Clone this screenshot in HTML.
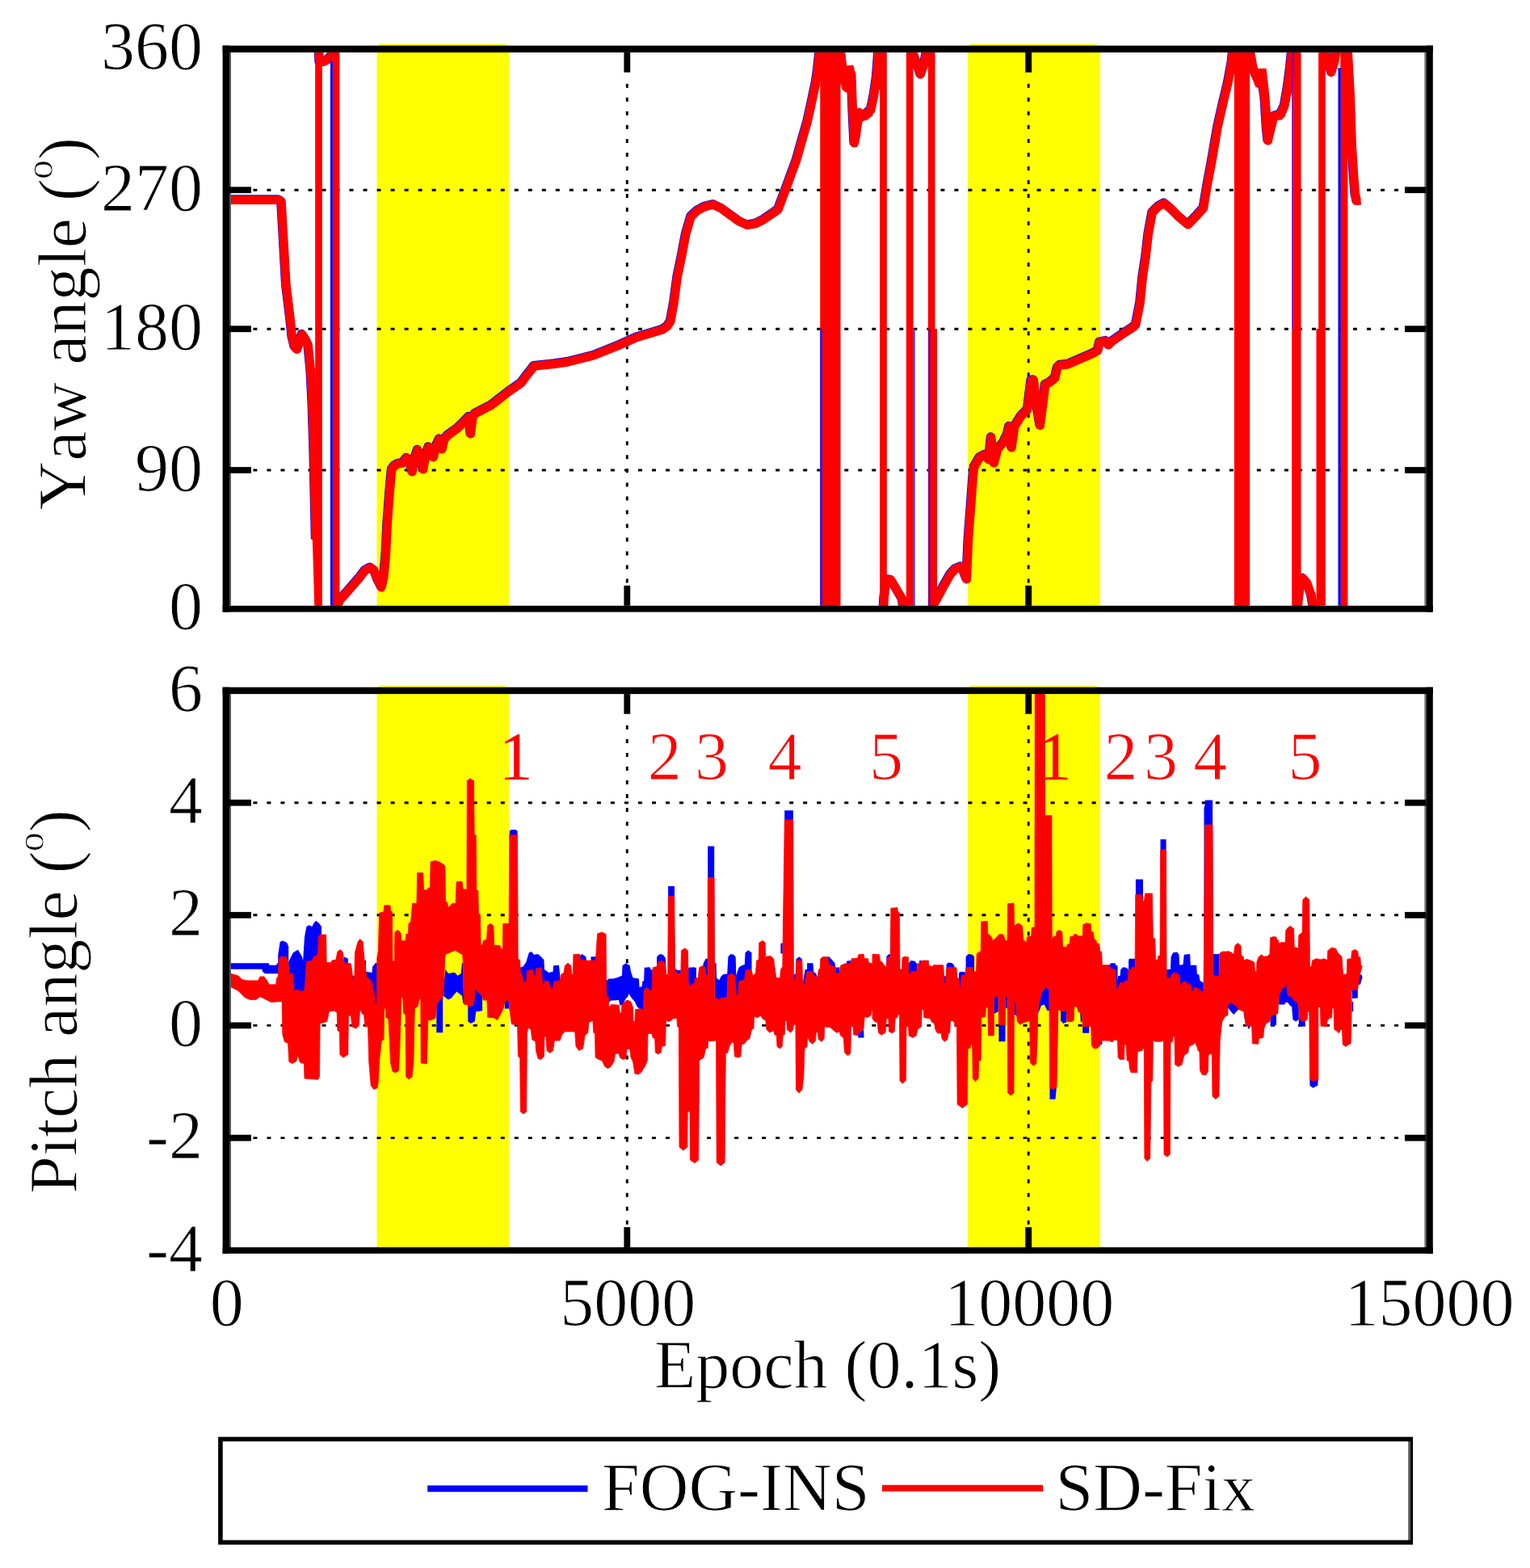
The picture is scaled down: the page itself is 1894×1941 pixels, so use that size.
<!DOCTYPE html>
<html lang="en"><head><meta charset="utf-8"><title>Yaw and pitch angle</title>
<style>html,body{margin:0;padding:0;background:#fff;}svg{display:block;}</style></head>
<body>
<svg width="1894" height="1941" viewBox="0 0 1894 1941" role="img" aria-label="Yaw and pitch angle of FOG-INS and SD-Fix versus epoch">
<defs><clipPath id="clipA"><rect x="286" y="64.9" width="1479.4" height="684.9"/></clipPath><clipPath id="clipB"><rect x="286" y="859.1" width="1479.4" height="684.9"/></clipPath></defs>
<rect x="0" y="0" width="1894" height="1941" fill="#fff"/>
<rect x="466.5" y="56.5" width="163.5" height="693.3" fill="#ffff00"/>
<rect x="469" y="54.4" width="156.5" height="3.1" fill="#ffff00"/>
<rect x="1198.2" y="56.5" width="163.7" height="693.3" fill="#ffff00"/>
<rect x="1200.7" y="54.4" width="156.7" height="3.1" fill="#ffff00"/>
<g stroke="#000" stroke-width="2.9" stroke-dasharray="5 12.02" fill="none"><line x1="313.4" y1="235.2" x2="1738" y2="235.2"/><line x1="313.4" y1="407.2" x2="1738" y2="407.2"/><line x1="313.4" y1="582" x2="1738" y2="582"/></g>
<g stroke="#000" stroke-width="2.9" stroke-dasharray="5 12.02" fill="none"><line x1="776.3" y1="103.8" x2="776.3" y2="723.8"/><line x1="1273.2" y1="103.8" x2="1273.2" y2="723.8"/></g>
<g clip-path="url(#clipA)" fill="none" stroke-linejoin="round" stroke-linecap="butt">
<g stroke="#0000ff" stroke-width="11.0" transform="translate(-0.7,-0.7)"><polyline points="283,247.4 345,247.4 348.3,249.5 350.6,290 354.2,353 359.3,395 361.6,417 364.5,429 367.7,432.5 370.5,424 374,414 377.5,419 381.4,427 384.6,459 386.7,501 388.6,560 390,625 391,668"/><polyline points="394.4,50 395.5,77 400,76.5 406,73.5 410,69.5 413,64 415.8,50"/><polyline points="416,765 418,749 421,742.5 433,729 445.8,714.3 452,706 458.5,702.7 463,706 467.5,718 472.2,727 475,715 477.5,689 479.6,646.7 482.8,604.5 485,581 488,577 493,574 498.6,573 503.5,567 507,570 510.3,584 513,569 517,557 520.5,564 523.8,581 527,564 530.6,553.5 534,556 536.6,566 540,552 544,543.5 547.2,556 550,544 554.2,539 566.2,530.3 574.5,522.3 580.5,516 582.6,537 585.2,516 588,512 608.3,501.5 629.6,485 645.3,474 653,463.4 657.5,458 661,453.2 686.5,450.5 703.4,448 735,440 766.7,427.3 787.8,417.8 819.5,408.3 826,404 830,398 834.3,374.5 838.5,342.8 843.8,317.5 849,290 855.4,268 863,261 872,256 882.9,253.3 893,258 904,266 915,274 925.1,278.6 935,277 945,272 956.8,264 963.5,259 966,252 972.5,234.8 979,217 985.9,198.4 992.5,175 999.4,150.9 1004.5,128 1009.7,103.4 1012,88 1013.8,71 1015.5,50 1019.4,50"/><polyline points="1019.4,765 1022.7,765"/><polyline points="1022.7,50 1026,50"/><polyline points="1026,765 1029.3,765"/><polyline points="1029.3,50 1032.6,50"/><polyline points="1032.6,765 1035.9,765"/><polyline points="1035.9,50 1037.5,50 1041,66 1044.5,100 1047.5,92 1050.5,88 1054,92 1055.5,135 1057.5,177 1059.5,168 1062,150 1065,143 1072,141 1078,136 1082,117 1085,96 1088.5,50 1093.2,50"/><polyline points="1093.2,765 1094.5,740 1097.3,717 1103,718 1110,730 1117,742 1120,765 1126,765"/><polyline points="1126,50 1129,62 1134,76 1139.4,92 1144.5,78 1149.5,50 1153,50"/><polyline points="1153,765 1156,748 1159.6,741.8 1168,726 1176.5,711 1183,704 1189.2,701.6 1193,708 1196.6,717 1198.7,667.8 1201.9,625.6 1204.5,590 1206,578 1213,566 1219,563 1224,569 1227,541.5 1230.5,573 1235,556 1242,548 1247,538 1249.3,528 1252.3,554 1256,528 1264,515 1272,507 1276.5,471 1279.5,470.5 1283,500 1287.5,526.5 1291,500 1294,476 1300,473 1306,468 1309,455 1312,452 1322,451 1338,444 1352,438 1359,434 1361.3,423.5 1369,422 1372,427 1376,423 1393.4,411 1402,405.5 1406,402 1411.4,374.5 1414.5,342.8 1418.4,317.5 1421.5,290 1426.5,263 1434,255.5 1441.2,251.5 1449,258 1460,269 1470.8,278 1480,268.5 1489.8,257.5 1494,232 1500,200 1507.4,157 1514,128 1520,103 1524.8,77 1527.5,50 1532,50"/><polyline points="1532,765 1535.5,765"/><polyline points="1535.5,50 1539,50"/><polyline points="1539,765 1542.5,765"/><polyline points="1542.5,50 1546.5,50 1548,66 1551.5,86 1556,96 1562,98 1565.5,120 1568,160 1569.6,174 1572.5,162 1577,144 1585,141.5 1590,131 1594,108 1597,85 1600.5,50 1605.9,50"/><polyline points="1605.9,765 1607,745 1610,720 1613,716 1618,722 1623,736 1628,765 1636.2,765"/><polyline points="1636.2,50 1640,62 1644,76 1648,89.5 1652,76 1656.5,50 1663.5,50"/><polyline points="1663.5,765 1663.7,765"/><polyline points="1663.7,50 1665.5,50 1668.5,64 1671.6,120 1673.5,180 1675.7,215 1677.6,240 1679.5,248.5 1684.5,248"/></g>
<polygon fill="#ff0000" stroke="none" points="1039.1,60.6 1040.1,64.8 1042.2,66.9 1043.8,74.3 1045.4,84.8 1047,84.8 1048,81.2 1056,80.6 1057.6,84.8 1058.6,96.5 1058.6,133.4 1060.7,133.9 1065.5,133.4 1067.6,136.6 1071.8,136.6 1075,133.4 1076.6,119.7 1078.7,104.9 1081.8,92.2 1084.5,80.6 1087.6,64.8 1089.8,64.8 1089.8,111.2 1087.6,111.2 1085.5,126 1083.4,127.1 1080.3,142.9 1073.9,148.2 1067.6,150.3 1064.4,154.5 1063.4,175.7 1061.2,181.5 1053.9,181.5 1051.2,159.8 1050.7,115.5 1045.4,113.4 1042.2,110.2 1040.1,100.7 1039.1,100.7"/><polygon fill="#ff0000" stroke="none" points="1546.5,60.6 1547.5,64.8 1550.7,71.1 1554.9,77.5 1557,84.8 1567.6,84.8 1569.7,102.8 1571.8,123.9 1572.9,139.8 1584.5,137.6 1588.7,115.5 1592.9,99.6 1596.1,79.6 1599.3,68 1601.4,64.8 1601.4,112.3 1599.8,112.3 1598.2,117.6 1595,132.4 1590.8,144 1586.6,148.2 1577.1,149.3 1574.4,176.7 1568.6,178.8 1564.4,176.7 1562.3,145 1561.2,111.2 1553.9,107 1550.7,98.6 1547.5,88 1546.5,88"/><g stroke="#ff0000" stroke-width="11.0"><polyline points="283,247.4 345,247.4 348.3,249.5 350.6,290 354.2,353 359.3,395 361.6,417 364.5,429 367.7,432.5 370.5,424 374,414 377.5,419 381.4,427 384.6,459 386.7,501 388.6,560 390,625 391,668"/><polyline points="394.4,50 395.5,77 400,76.5 406,73.5 410,69.5 413,64 415.8,50"/><polyline points="416,765 418,749 421,742.5 433,729 445.8,714.3 452,706 458.5,702.7 463,706 467.5,718 472.2,727 475,715 477.5,689 479.6,646.7 482.8,604.5 485,581 488,577 493,574 498.6,573 503.5,567 507,570 510.3,584 513,569 517,557 520.5,564 523.8,581 527,564 530.6,553.5 534,556 536.6,566 540,552 544,543.5 547.2,556 550,544 554.2,539 566.2,530.3 574.5,522.3 580.5,516 582.6,537 585.2,516 588,512 608.3,501.5 629.6,485 645.3,474 653,463.4 657.5,458 661,453.2 686.5,450.5 703.4,448 735,440 766.7,427.3 787.8,417.8 819.5,408.3 826,404 830,398 834.3,374.5 838.5,342.8 843.8,317.5 849,290 855.4,268 863,261 872,256 882.9,253.3 893,258 904,266 915,274 925.1,278.6 935,277 945,272 956.8,264 963.5,259 966,252 972.5,234.8 979,217 985.9,198.4 992.5,175 999.4,150.9 1004.5,128 1009.7,103.4 1012,88 1013.8,71 1015.5,50 1019.4,50"/><polyline points="1019.4,765 1022.7,765"/><polyline points="1022.7,50 1026,50"/><polyline points="1026,765 1029.3,765"/><polyline points="1029.3,50 1032.6,50"/><polyline points="1032.6,765 1035.9,765"/><polyline points="1035.9,50 1037.5,50 1041,66 1044.5,100 1047.5,92 1050.5,88 1054,92 1055.5,135 1057.5,177 1059.5,168 1062,150 1065,143 1072,141 1078,136 1082,117 1085,96 1088.5,50 1093.2,50"/><polyline points="1093.2,765 1094.5,740 1097.3,717 1103,718 1110,730 1117,742 1120,765 1126,765"/><polyline points="1126,50 1129,62 1134,76 1139.4,92 1144.5,78 1149.5,50 1153,50"/><polyline points="1153,765 1156,748 1159.6,741.8 1168,726 1176.5,711 1183,704 1189.2,701.6 1193,708 1196.6,717 1198.7,667.8 1201.9,625.6 1204.5,590 1206,578 1213,566 1219,563 1224,569 1227,541.5 1230.5,573 1235,556 1242,548 1247,538 1249.3,528 1252.3,554 1256,528 1264,515 1272,507 1276.5,471 1279.5,470.5 1283,500 1287.5,526.5 1291,500 1294,476 1300,473 1306,468 1309,455 1312,452 1322,451 1338,444 1352,438 1359,434 1361.3,423.5 1369,422 1372,427 1376,423 1393.4,411 1402,405.5 1406,402 1411.4,374.5 1414.5,342.8 1418.4,317.5 1421.5,290 1426.5,263 1434,255.5 1441.2,251.5 1449,258 1460,269 1470.8,278 1480,268.5 1489.8,257.5 1494,232 1500,200 1507.4,157 1514,128 1520,103 1524.8,77 1527.5,50 1532,50"/><polyline points="1532,765 1535.5,765"/><polyline points="1535.5,50 1539,50"/><polyline points="1539,765 1542.5,765"/><polyline points="1542.5,50 1546.5,50 1548,66 1551.5,86 1556,96 1562,98 1565.5,120 1568,160 1569.6,174 1572.5,162 1577,144 1585,141.5 1590,131 1594,108 1597,85 1600.5,50 1605.9,50"/><polyline points="1605.9,765 1607,745 1610,720 1613,716 1618,722 1623,736 1628,765 1636.2,765"/><polyline points="1636.2,50 1640,62 1644,76 1648,89.5 1652,76 1656.5,50 1663.5,50"/><polyline points="1663.5,765 1663.7,765"/><polyline points="1663.7,50 1665.5,50 1668.5,64 1671.6,120 1673.5,180 1675.7,215 1677.6,240 1679.5,248.5 1684.5,248"/></g><g stroke="#ff0000" stroke-width="8.7"><line x1="394.5" y1="765" x2="394.5" y2="50"/><line x1="416.1" y1="50" x2="416.1" y2="765"/><line x1="1019.6" y1="50" x2="1019.6" y2="765"/><line x1="1023.0" y1="765" x2="1023.0" y2="50"/><line x1="1026.2" y1="50" x2="1026.2" y2="765"/><line x1="1029.5" y1="765" x2="1029.5" y2="50"/><line x1="1032.8" y1="50" x2="1032.8" y2="765"/><line x1="1036.2" y1="765" x2="1036.2" y2="50"/><line x1="1093.5" y1="50" x2="1093.5" y2="765"/><line x1="1126.2" y1="765" x2="1126.2" y2="50"/><line x1="1153.2" y1="50" x2="1153.2" y2="765"/><line x1="1532.2" y1="50" x2="1532.2" y2="765"/><line x1="1535.8" y1="765" x2="1535.8" y2="50"/><line x1="1539.2" y1="50" x2="1539.2" y2="765"/><line x1="1542.8" y1="765" x2="1542.8" y2="50"/><line x1="1606.2" y1="50" x2="1606.2" y2="765"/><line x1="1636.5" y1="765" x2="1636.5" y2="50"/><line x1="1663.8" y1="50" x2="1663.8" y2="765"/><line x1="1664.0" y1="765" x2="1664.0" y2="50"/></g><polyline stroke="#ff0000" stroke-width="8.7" points="391,664 392.3,705 394,765"/><rect x="408.9" y="76.0" width="3.0" height="689.0" fill="#0000ff" stroke="none"/><rect x="1015.2" y="407.0" width="2.8" height="358.0" fill="#2020ff" stroke="none"/><rect x="1130.1" y="407.0" width="2.6" height="358.0" fill="#4040ff" stroke="none"/><rect x="1149.2" y="407.0" width="2.4" height="358.0" fill="#7000a0" stroke="none"/><rect x="1156.0" y="407.0" width="4.0" height="358.0" fill="#ff0000" stroke="none"/><rect x="1599.2" y="60.0" width="2.6" height="347.0" fill="#9000a0" stroke="none"/><rect x="1599.2" y="407.0" width="3.8" height="358.0" fill="#ff0000" stroke="none"/><rect x="1629.5" y="407.0" width="4.0" height="358.0" fill="#ff0000" stroke="none"/><rect x="1656.5" y="84.0" width="3.2" height="681.0" fill="#0000ff" stroke="none"/>
</g>
<g fill="#000"><rect x="1763.3" y="64.9" width="2.1" height="684.9" fill="#6f7777"/><rect x="275.6" y="56.5" width="1498.2" height="8.4"/><rect x="275.6" y="749.8" width="1498.2" height="7.8"/><rect x="284" y="64.9" width="2" height="684.9" fill="#555a60"/><rect x="275.6" y="56.5" width="8.4" height="701.1"/><rect x="1765.4" y="56.5" width="8.4" height="701.1"/><rect x="284" y="231.3" width="27" height="7.8"/><rect x="1739" y="231.3" width="26.4" height="7.8"/><rect x="284" y="403.3" width="27" height="7.8"/><rect x="1739" y="403.3" width="26.4" height="7.8"/><rect x="284" y="578.1" width="27" height="7.8"/><rect x="1739" y="578.1" width="26.4" height="7.8"/><rect x="772.4" y="64.9" width="7.8" height="24.7"/><rect x="772.4" y="724.9" width="7.8" height="24.9"/><rect x="1269.3" y="64.9" width="7.8" height="24.7"/><rect x="1269.3" y="724.9" width="7.8" height="24.9"/></g>
<rect x="466.5" y="850.7" width="163.5" height="693.3" fill="#ffff00"/>
<rect x="469" y="848.6" width="156.5" height="3.1" fill="#ffff00"/>
<rect x="1198.2" y="850.7" width="163.7" height="693.3" fill="#ffff00"/>
<rect x="1200.7" y="848.6" width="156.7" height="3.1" fill="#ffff00"/>
<g stroke="#000" stroke-width="2.9" stroke-dasharray="5 12.02" fill="none"><line x1="313.4" y1="993.7" x2="1738" y2="993.7"/><line x1="313.4" y1="1132.8" x2="1738" y2="1132.8"/><line x1="313.4" y1="1269.4" x2="1738" y2="1269.4"/><line x1="313.4" y1="1408.6" x2="1738" y2="1408.6"/></g>
<g stroke="#000" stroke-width="2.9" stroke-dasharray="5 12.02" fill="none"><line x1="776.3" y1="898" x2="776.3" y2="1518"/><line x1="1273.2" y1="898" x2="1273.2" y2="1518"/></g>
<g clip-path="url(#clipB)">
<g fill="#0000ff"><polygon points="344.2,1181.7 346.7,1165.7 350.4,1164.4 355.3,1166.9 357.2,1171.8 357.2,1190.4 357.2,1203.2 356.2,1195.4 355.2,1192.9 354.2,1190.4 353.2,1190.2 352.2,1190.2 351.2,1190.2 350.2,1190.2 349.2,1190.2 348.2,1190.2 347.2,1190.3 346.2,1191.7 345.2,1197 344.2,1214.9"/><polygon points="357.2,1190.4 362.8,1179.3 368.9,1175.5 373.9,1184.2 375.1,1189.1 377,1159.5 379.4,1147.1 382.5,1145.2 386.3,1147.1 388.7,1142.2 391.2,1139.7 394.9,1142.8 398,1147.1 398,1157 398,1163 397,1163 396,1163.2 395,1164.5 394,1175.2 393,1188.1 392,1188.6 391,1189 390,1189.5 389,1190 388,1191.6 387,1193.6 386.1,1195.2 385.1,1195.4 384.1,1195.5 383.1,1195.7 382.1,1195.9 381.1,1196.1 380.1,1196.3 379.1,1201.9 378.1,1217.2 377.1,1228.1 376.1,1232.9 375.1,1232.9 374.1,1232.9 373.1,1232.9 372.1,1232.9 371.1,1232.7 370.1,1231.9 369.1,1231.2 368.1,1231.2 367.1,1231.5 366.1,1231.7 365.2,1232 364.2,1232.2 363.2,1219 362.2,1212.2 361.2,1211.7 360.2,1211.2 359.2,1210.7 358.2,1210.2 357.2,1203.2"/><polygon points="425.8,1184.2 430.8,1186.7 430.8,1191.6 430.8,1198.3 429.8,1198.2 428.8,1198 427.8,1197.9 426.8,1197.8 425.8,1197.6"/><polygon points="435.7,1207.7 438.8,1207.7 438.8,1219.9 438,1219.4 437.3,1218.9 436.5,1214.9 435.7,1208.8"/><polygon points="449.9,1189.1 453,1189.1 453,1196.6 453,1208.8 452.3,1201.5 451.5,1196.4 450.7,1191.2 449.9,1180.9"/><polygon points="453,1202.8 460.5,1204 461.1,1196.6 464.2,1192.9 466.4,1192.2 466.4,1249.6 465.4,1249.6 464.5,1242.2 463.5,1237.1 462.6,1233.3 461.6,1229.3 460.7,1222.6 459.7,1220.4 458.8,1219.4 457.8,1218.5 456.8,1217.5 455.9,1216.7 454.9,1216 454,1215.2 453,1208.8"/><polygon points="630.7,1028.4 633.4,1027.1 638,1027.1 640.6,1028.4 640.6,1039.7 639.6,1039.7 638.7,1039.7 637.7,1039.7 636.7,1039.7 635.7,1039.7 634.7,1039.7 633.7,1039.7 632.7,1039.7 631.7,1039.7 630.7,1039.7"/><polygon points="643.7,1197.8 647.4,1196.6 651.1,1191.6 654.8,1179.3 657.9,1178 661,1181.7 666,1181.1 669.7,1184.2 673.4,1187.9 674,1200.3 679.6,1204 684.5,1202.8 685.1,1195.3 691.9,1194.7 693.2,1206.5 693.2,1219.9 692.2,1220 691.2,1220.2 690.2,1220.4 689.2,1220.5 688.2,1220.7 687.2,1220.9 686.3,1221 685.3,1224.6 684.3,1229.8 683.3,1229.8 682.3,1229.8 681.3,1227.2 680.3,1223.7 679.3,1221.1 678.3,1220.8 677.3,1220.6 676.4,1220.3 675.4,1220.1 674.4,1220.9 673.4,1224.8 672.4,1224.2 671.4,1221.6 670.4,1205.8 669.4,1204 668.4,1204.1 667.5,1204.3 666.5,1204.5 665.5,1204.7 664.5,1204.9 663.5,1205 662.5,1213.7 661.5,1213.7 660.5,1210.7 659.5,1206.3 658.6,1206.5 657.6,1206.7 656.6,1206.8 655.6,1207 654.6,1207.1 653.6,1207.3 652.6,1207.5 651.6,1221.1 650.6,1221.1 649.6,1221.1 648.7,1221.1 647.7,1221.1 646.7,1212.4 645.7,1211.9 644.7,1211.4 643.7,1195.1"/><polygon points="717.9,1183 720.4,1181.1 725.3,1184.2 726,1189.1 726,1195.1 725.1,1194.9 724.2,1194.8 723.3,1194.6 722.4,1194.5 721.5,1194.4 720.6,1194.2 719.7,1194.1 718.8,1194 717.9,1190.5"/><polygon points="731.5,1184.2 738.9,1184.2 738.9,1189.1 738.9,1171.2 738,1185.5 737.1,1192.7 736.2,1195.1 735.2,1195.1 734.3,1195.1 733.4,1195.1 732.4,1195.1 731.5,1195.1"/><polygon points="813.1,1184.2 816.8,1181.1 820.6,1181.7 823.7,1185.4 824.3,1191.6 824.3,1207.5 823.3,1200.1 822.4,1197.3 821.5,1196.8 820.6,1196.4 819.6,1195.9 818.7,1195.5 817.8,1195.4 816.8,1196 815.9,1196.6 815,1197.2 814.1,1198.9 813.1,1202.6"/><polygon points="827.1,1096.9 835,1096.9 835,1151.9 834,1115.6 833,1115.6 832.1,1115.6 831.1,1115.6 830.1,1115.6 829.1,1115.6 828.1,1115.6 827.1,1154.3"/><polygon points="834.8,1196.6 837.9,1200.9 842.8,1200.9 842.8,1205.2 842.8,1211.2 841.9,1211.2 841,1211.2 840.1,1211.2 839.2,1211.2 838.4,1211.2 837.5,1210.4 836.6,1208.6 835.7,1206.8 834.8,1115.6"/><polygon points="852.1,1197.8 860,1197.2 860,1222.4 859,1222.9 858,1223.4 857,1224.5 856.1,1226 855.1,1227.1 854.1,1225.5 853.1,1223.9 852.1,1222.4"/><polygon points="860,1197.8 861.9,1197.8 861.9,1212.6 861.9,1216.9 860.9,1217.1 860,1222.4"/><polygon points="870.5,1192.9 873.6,1186.7 876.1,1186.7 876.1,1207.7 876.1,1213.7 875.1,1213.2 874.2,1212.8 873.3,1208.1 872.4,1203.3 871.4,1202.6 870.5,1201.8"/><polygon points="876.2,1047.5 884.2,1047.5 884.2,1122 883.3,1092.3 882.5,1092.3 881.6,1092.3 880.7,1092.3 879.8,1092.3 878.9,1092.3 878,1092.3 877.1,1092.3 876.2,1153"/><polygon points="884.1,1192.2 886.6,1192.2 887.2,1210.8 890.3,1213.3 892.8,1208.3 895.9,1205.8 900.2,1205.8 901.4,1184.2 904.5,1181.1 908.2,1181.7 910.7,1184.8 911.3,1207.7 914.4,1197.8 918.1,1195.3 921.8,1194.1 922.5,1179.3 926.2,1176.2 930.5,1179.3 930.5,1201.5 930.5,1207.5 929.5,1207.1 928.5,1206.7 927.5,1206.3 926.5,1206.5 925.6,1206.8 924.6,1207.1 923.6,1207.4 922.6,1211.8 921.6,1218.7 920.6,1219.1 919.6,1219.4 918.7,1219.7 917.7,1220 916.7,1220.4 915.7,1220.7 914.7,1221 913.7,1238.4 912.7,1237.9 911.7,1237.4 910.8,1230 909.8,1217.5 908.8,1213.2 907.8,1212.6 906.8,1211.9 905.8,1211.3 904.8,1211.7 903.9,1212.2 902.9,1212.7 901.9,1213.2 900.9,1213.7 899.9,1240.9 898.9,1240.9 897.9,1240.9 896.9,1240.9 896,1240.9 895,1240.9 894,1240.9 893,1241.3 892,1242.3 891,1243.3 890,1243 889,1242.6 888.1,1242.2 887.1,1241.8 886.1,1241.4 885.1,1241.1 884.1,1092.3"/><polygon points="971.2,1003.2 981.9,1003.2 981.9,1059.1 981,1020.8 980,1020.8 979,1020.8 978,1020.8 977,1020.8 976.1,1020.8 975.1,1020.8 974.1,1020.8 973.1,1020.8 972.2,1020.8 971.2,1029.6"/><polygon points="982.4,1206.5 984.9,1205.2 984.9,1213.9 984.9,1219.9 984.1,1219.9 983.3,1217.4 982.4,1212.5"/><polygon points="985.5,1187.3 989.2,1184.2 992.9,1187.3 992.9,1195.1 992,1195.1 991.1,1195.1 990.2,1195.1 989.2,1195.1 988.3,1195.1 987.4,1195.1 986.5,1195.1 985.5,1195.1"/><polygon points="994.2,1213.9 996.7,1200.3 999.1,1199.7 999.1,1192.2 1006.5,1192.2 1007.2,1202.8 1010.3,1205.2 1012.1,1210.2 1012.1,1216.2 1011.1,1215.4 1010.1,1214.7 1009.1,1213.9 1008.1,1213.2 1007.1,1212.3 1006.1,1208.8 1005.1,1208.8 1004.1,1208.8 1003.1,1208.8 1002.2,1208.8 1001.2,1208.8 1000.2,1208.8 999.2,1208.8 998.2,1213.2 997.2,1218 996.2,1224 995.2,1224 994.2,1223"/><polygon points="1024.5,1184.2 1026.3,1184.2 1033.1,1191.6 1034.4,1196.6 1034.4,1211.2 1033.4,1204.3 1032.4,1202.3 1031.4,1201.9 1030.4,1201.6 1029.4,1201.2 1028.4,1200.9 1027.4,1200.5 1026.5,1200.1 1025.5,1195.8 1024.5,1190.8"/><polygon points="1034.4,1197.8 1039.3,1197.2 1039.3,1204 1039.3,1210 1038.3,1210.2 1037.3,1210.5 1036.4,1210.7 1035.4,1211 1034.4,1211.2"/><polygon points="1048,1189.8 1052.9,1189.1 1052.9,1192.9 1052.9,1198.9 1051.9,1198.9 1050.9,1198.9 1050,1198.9 1049,1198.9 1048,1198.9"/><polygon points="1097.3,1184.2 1100.4,1181.1 1102.9,1181.1 1102.9,1130.2 1102,1190.3 1101,1190.6 1100.1,1190.9 1099.2,1191.2 1098.2,1194.2 1097.3,1202.6"/><polygon points="1124.5,1192.9 1127.6,1189.1 1132.6,1189.8 1135,1192.9 1135,1208.1 1134.1,1208.2 1133.1,1208.3 1132.2,1208.4 1131.2,1208.5 1130.3,1208.5 1129.3,1208.6 1128.3,1208.7 1127.4,1210.1 1126.4,1212.1 1125.5,1211.5 1124.5,1190.8"/><polygon points="1138.1,1189.1 1140.6,1189.1 1140.6,1197.6 1139.8,1197.8 1138.9,1198 1138.1,1198.2"/><polygon points="1168.4,1208.9 1170.9,1207.7 1170.9,1217.6 1170.9,1223.6 1170.1,1223.6 1169.2,1223.6 1168.4,1212.2"/><polygon points="1171.5,1194.1 1174,1191.6 1178.9,1192.2 1181.4,1195.3 1181.4,1197.8 1181.4,1203.7 1180.4,1203.6 1179.4,1203.5 1178.4,1203.5 1177.5,1203.4 1176.5,1203.3 1175.5,1203.3 1174.5,1203.2 1173.5,1203.6 1172.5,1204.3 1171.5,1205"/><polygon points="1187,1204 1190.1,1202.8 1195,1203.4 1195,1212.5 1194.1,1212.7 1193.2,1212.9 1192.3,1213.1 1191.4,1213.4 1190.5,1213.6 1189.7,1222.8 1188.8,1227.3 1187.9,1227.3 1187,1217.4"/><polygon points="1195.6,1184.2 1198.7,1181.1 1203.7,1181.7 1206.1,1184.2 1206.1,1202.8 1206.1,1208.8 1205.2,1208.8 1204.2,1208.2 1203.3,1203.2 1202.3,1203.3 1201.4,1203.4 1200.4,1203.4 1199.5,1203.5 1198.5,1203.6 1197.5,1203.7 1196.6,1203.7 1195.6,1203.8"/><polygon points="1373,1194.7 1375.4,1192.2 1380.4,1192.2 1381.6,1195.3 1383.5,1195.3 1383.5,1201.5 1383.5,1230.4 1382.5,1230.1 1381.6,1227.6 1380.6,1206.2 1379.7,1206 1378.7,1205.8 1377.7,1205.6 1376.8,1205.3 1375.8,1205.1 1374.9,1204.1 1373.9,1202.4 1373,1200.7"/><polygon points="1381.6,1223.8 1384.1,1208.3 1386.6,1207.7 1387.2,1200.3 1390.3,1197.2 1394,1197.8 1397.1,1200.3 1397.1,1206.3 1396.1,1220.4 1395.1,1220.3 1394.2,1220.1 1393.2,1220 1392.3,1221.9 1391.3,1222.4 1390.3,1222.4 1389.4,1222.4 1388.4,1222.4 1387.4,1222.4 1386.5,1222.9 1385.5,1225.9 1384.5,1226.9 1383.6,1230 1382.6,1230.1 1381.6,1229.8"/><polygon points="1397.1,1189.1 1397.7,1186.7 1405.1,1186.7 1405.1,1197.8 1405.1,1203.8 1404.2,1203.7 1403.3,1203.5 1402.4,1203.4 1401.5,1203.2 1400.7,1205.7 1399.8,1205.8 1398.9,1206 1398,1206.1 1397.1,1206.3"/><polygon points="1405.9,1088.4 1415,1088.4 1415,1122 1414.1,1116.3 1413.2,1113.5 1412.3,1113.5 1411.4,1113.5 1410.4,1113.5 1409.5,1113.5 1408.6,1113.5 1407.7,1113.5 1406.8,1113.5 1405.9,1113.5"/><polygon points="1436.5,1039 1443.6,1039 1443.6,1089.5 1442.7,1057.8 1441.8,1057.8 1440.9,1057.8 1440.1,1057.8 1439.2,1057.8 1438.3,1057.8 1437.4,1057.8 1436.5,1084"/><polygon points="1444.1,1200.3 1449,1199.7 1449.6,1184.2 1452.1,1179.3 1457.1,1178.6 1459.5,1181.7 1460.2,1194.7 1464.5,1194.1 1465.7,1181.7 1473.1,1181.1 1473.8,1194.7 1481.2,1194.7 1481.8,1205.8 1484.3,1206.5 1485.5,1213.9 1489.8,1216.4 1489.8,1229.3 1489.8,1235.3 1488.8,1235.3 1487.8,1232.8 1486.9,1232.6 1485.9,1232.3 1484.9,1231.4 1483.9,1230.2 1482.9,1229.1 1481.9,1229 1480.9,1228.9 1479.9,1228.8 1478.9,1228.6 1477.9,1229.2 1476.9,1232.7 1475.9,1232.9 1474.9,1231.8 1473.9,1224.8 1472.9,1224.8 1471.9,1224.8 1470.9,1224.8 1469.9,1223.7 1468.9,1222.2 1467.9,1221.1 1467,1221.1 1466,1221.1 1465,1221.1 1464,1222.7 1463,1224.8 1462,1224.8 1461,1224.8 1460,1213.5 1459,1212.5 1458,1211.5 1457,1210.6 1456,1210.5 1455,1210.3 1454,1210.2 1453,1210 1452,1210.8 1451,1212 1450,1213.2 1449,1216.7 1448.1,1216.7 1447.1,1216.5 1446.1,1216.4 1445.1,1216.3 1444.1,1216.2"/><polygon points="1491.6,990.5 1501.1,990.5 1501.1,1064.3 1500.1,1027 1499.2,1027 1498.2,1027 1497.3,1027 1496.3,1027 1495.4,1027 1494.4,1027 1493.5,1027 1492.5,1027 1491.6,1042.7"/><polygon points="1501,1181.1 1509,1181.1 1509,1208.3 1509,1214.3 1508.1,1214.2 1507.2,1214.2 1506.3,1214.1 1505.4,1214 1504.5,1213.9 1503.6,1213.9 1502.8,1213.8 1501.9,1213.7 1501,1027"/><polygon points="282.4,1192.2 332.5,1192.2 333.7,1194.7 341.7,1194.7 344.2,1191.6 345.4,1196.6 344.2,1205.2 328.1,1205.2 325,1202.8 324.4,1199.7 282.4,1199.7"/><polygon points="464.2,1192.2 466.6,1192.2 466.6,1243.6 464.2,1233.7"/><polygon points="477.8,1254.7 480.2,1254.7 480.2,1259.6 477.8,1259.6"/><polygon points="748.8,1191.6 750.7,1213.9 753.8,1211.4 758.7,1211.4 763.7,1210.2 769.9,1207.7 770.5,1195.3 774.8,1192.2 779.7,1195.3 781,1202.8 783.5,1210.2 790.9,1211.4 791.5,1221.9 794.6,1221.3 795.2,1215.1 797.1,1213.9 797.7,1197.8 804.5,1197.2 805.7,1200.3 807.6,1200.3 808.8,1228.7 805.1,1228.7 800.8,1225 797.7,1227.5 797.1,1251 792.1,1249.1 788.4,1246 785.9,1239.9 782.2,1236.1 778.5,1230 777.3,1233.7 774.8,1236.1 771.1,1243.6 767.4,1244.8 766.1,1238 756.3,1238.6 753.8,1241.1 750.1,1233.7 748.2,1196.6"/><polygon points="966.4,1168.1 968.8,1166.9 968.8,1180.5 966.4,1180.5"/><polygon points="969.4,1137.2 971.3,1137.2 971.3,1147.1 969.4,1147.1"/><polygon points="1062.2,1279.4 1069,1273.9 1069.6,1284.4 1062.2,1284.4"/><polygon points="1490.5,1000 1492.3,995 1492.3,1178 1490.5,1178"/><polygon points="1681.4,1204 1686.3,1207.7 1686.3,1210.8 1683.9,1218.8 1680.8,1218.8"/><polygon points="477.6,1246 479.6,1246 479.6,1259.9 477.6,1259.9"/><polygon points="494.1,1246 496.1,1246 496.1,1269.8 494.1,1269.8"/><polygon points="540.3,1232.8 548.2,1232.8 548.2,1278.3 540.3,1278.3"/><polygon points="551.5,1199.8 554.8,1205.1 562.8,1203.8 566.7,1207.7 570.7,1205.1 572,1191.9 573.1,1191.9 573.3,1222.2 577.3,1224.9 577.3,1242 573.3,1242 572,1232.8 565.4,1227.5 558.8,1235.4 554.8,1237.4 548.9,1232.8 549.2,1219.6"/><polygon points="587.2,1222.2 591.8,1227.5 597.1,1232.8 597.1,1251.3 589.2,1252.6 587.8,1264.5 582.6,1267.1 579.3,1264.5 579.3,1246 585.2,1244.7 587.2,1238.1"/><polygon points="624.8,1232.8 630.1,1232.8 630.1,1248.6 624.8,1248.6"/><polygon points="1230.9,1228.7 1235.8,1228.1 1235.8,1252.2 1230.9,1254.7"/><polygon points="1236.4,1263.4 1244.5,1263.4 1244.5,1289.3 1236.4,1289.3"/><polygon points="1244.5,1228.7 1247,1228.7 1247,1247.3 1245.1,1248.5"/><polygon points="1255.6,1236.1 1258.1,1236.1 1258.7,1257.2 1255.6,1255.9"/><polygon points="1285.3,1246 1289,1230 1292.7,1223.8 1295.2,1221.9 1298.9,1225 1298.9,1251 1296.4,1251 1292.7,1243.6 1289,1244.8 1285.3,1254.7"/><polygon points="1313,1247.3 1318.6,1246 1320.4,1246 1320.4,1265.2 1316.1,1267.1 1313,1263.4"/><polygon points="1337.1,1249.7 1339.6,1249.7 1339.6,1265.8 1337.7,1264.6"/><polygon points="1340.2,1265.8 1348.2,1265.8 1348.2,1278.8 1340.2,1278.8"/><polygon points="1361.8,1285.6 1364.3,1285.6 1364.3,1293 1361.8,1293"/><polygon points="1299.5,1330 1308,1320 1308,1345 1306.5,1360.7 1299.5,1360.7"/><polygon points="1520,1238.6 1523.7,1236.1 1529.9,1239.9 1533.6,1249.7 1531.1,1251.6 1527.4,1255.9 1523.7,1252.2 1520,1247.3"/><polygon points="1539.8,1248.5 1542.3,1248.5 1542.3,1269.5 1539.8,1255.9"/><polygon points="1544.7,1268.3 1547.2,1268.3 1547.2,1273.2 1544.7,1273.2"/><polygon points="1572.6,1253.5 1574.4,1252.2 1580,1252.2 1580,1268.3 1576.9,1270.8 1572.6,1269.5"/><polygon points="1583.1,1227.5 1586.8,1218.8 1591.1,1216.4 1592.3,1211.4 1595.4,1227.5 1600.4,1228.7 1602.9,1233.7 1606.6,1234.9 1607.8,1247.3 1607.8,1262.1 1604.1,1264.6 1600.4,1262.1 1599.1,1246 1596.7,1244.8 1594.2,1241.1 1591.1,1241.1 1590.5,1243.6 1583.1,1243.6"/><polygon points="1607.8,1258.4 1615.8,1259.6 1615.8,1270.8 1607.8,1270.8"/><polygon points="1621.4,1332.6 1631.9,1332.6 1631.3,1343.7 1625.1,1346.8 1621.4,1343.7"/><polygon points="1673.4,1225 1680.8,1225 1680.8,1235.5 1674,1236.1"/><polygon points="1673.4,1239.9 1675.2,1239.9 1675.2,1252.2 1673.4,1252.2"/><polygon points="1670.3,1259.6 1672.7,1259.6 1672.7,1265.8 1670.3,1265.8"/></g><polygon points="282.4,1204 289.8,1206.5 294.7,1207.7 299.7,1212.6 305.9,1213.9 319.5,1213.9 321.9,1208.9 326.9,1208.9 330.6,1213.9 333.1,1218.8 341.7,1218.8 342.3,1211.4 344.2,1208.9 345.4,1186.7 347.3,1184.2 354.1,1184.2 356.6,1190.4 357.8,1204 362.8,1206.5 364,1226.3 368.9,1225 371.4,1226.9 376.4,1226.9 377.6,1218.8 379.4,1190.4 386.3,1189.1 388.7,1184.2 393.7,1181.7 394.3,1159.5 396.1,1157 403.6,1157 404.2,1191.6 409.7,1191.6 411,1189.1 415.9,1187.9 417.8,1178 421.5,1175.5 424.6,1179.3 425.8,1191.6 434.5,1192.9 437,1212.6 438.8,1213.9 439.4,1179.3 443.1,1165.7 445.6,1162.6 449.3,1165.7 450.6,1184.2 452.4,1196.6 453.7,1208.9 456.7,1211.4 460.5,1215.1 461.7,1223.8 464.2,1233.7 465.4,1243.6 466.4,1243.6 466.8,1185.5 468.4,1177.6 469.7,1130.1 475,1128.8 475.6,1120.8 482.9,1120.8 483.6,1127.4 485.5,1128.8 485.9,1190 488.2,1190 488.8,1153.8 492.8,1151.2 496.1,1155.2 496.8,1164.4 502,1164.4 502.7,1156.5 505.3,1156.5 506,1143.3 508.6,1140.6 510.6,1118.2 515.9,1118.2 516.6,1080.6 523.8,1080.6 524.5,1101.7 529.1,1101.7 529.8,1099.1 532.4,1099.1 533.1,1066.7 539,1065.4 543,1066.7 548.2,1069.4 550.9,1072 551.5,1115.6 553.5,1116.9 554.8,1123.5 557.5,1120.8 560.1,1118.2 564.1,1118.2 565.1,1091.8 572,1091.1 573.3,1101 577.9,1101 578.3,966.4 581.9,963.8 586.5,966.4 587.2,1033.7 589.2,1033.7 589.8,1101.7 591.8,1102.4 592.5,1131.4 594.4,1132.1 595.1,1169.7 597.1,1169.7 598.4,1164.4 602.4,1163.1 603.7,1145.9 607,1143.3 610.9,1145.9 611.6,1170.3 618.9,1170.3 620.2,1175 622.2,1175 622.8,1143.3 630.1,1143.3 630.7,1033.7 640.6,1033.7 641.2,1188.2 641.5,1186.7 643.7,1189.1 644.3,1205.2 646.8,1206.5 647.4,1215.1 651.7,1215.1 652.4,1201.5 659.8,1200.3 661,1207.7 662.9,1207.7 663.5,1199 670.3,1197.8 671.5,1217.6 673.4,1218.8 674.6,1213.9 679.6,1215.1 682,1223.8 684.5,1223.8 685.8,1215.1 693.2,1213.9 694.4,1206.5 698.1,1204 699.4,1195.3 703.1,1192.2 706.8,1195.3 708,1206.5 709.3,1205.2 709.9,1181.7 717.3,1181.1 718.5,1187.9 726.6,1189.1 736.5,1189.1 737.7,1184.2 739.6,1155.8 745.1,1153.9 750.1,1156.4 750.7,1232.4 753.2,1233.7 753.8,1245.4 755.6,1246 756.3,1243.6 766.1,1244.2 767.4,1254.1 769.2,1253.5 769.9,1243.6 772.9,1241.1 776,1238 781,1239.9 783.5,1247.3 784.1,1264.6 785.9,1264.6 786.5,1249.7 793.4,1248.5 796.4,1250.4 797.1,1225 800.8,1222.5 805.1,1226.3 807,1226.3 808.2,1197.8 813.1,1196.6 814.4,1191.6 818.1,1189.1 823,1191.6 824.9,1206.5 826.7,1206.5 827.4,1109.6 834.8,1109.6 835.4,1200.3 837.9,1205.2 842.8,1205.2 843.4,1176.8 847.8,1173.7 851.5,1176.8 852.1,1216.4 855.2,1221.3 857.7,1217.6 860,1216.4 860,1211.4 864.3,1210.2 865.6,1197.8 869.9,1195.3 873,1197.8 873.6,1206.5 876.1,1207.7 876.3,1086.3 884.1,1086.3 884.7,1234.9 890.9,1237.4 893.4,1234.9 900.2,1234.9 900.8,1207.7 905.8,1205.2 909.5,1207.7 911.3,1231.2 913.8,1232.4 914.4,1215.1 921.8,1212.6 923.1,1201.5 927.4,1200.3 930.5,1201.5 931.7,1207.7 935.4,1205.2 936.7,1189.1 939.1,1187.9 939.8,1166.9 944.1,1164.4 947.2,1166.9 947.8,1184.2 954,1183.6 957.7,1186.7 958.9,1196.6 960.8,1210.2 965.7,1210.8 966.4,1200.3 968.8,1196.6 969.4,1147.1 971.3,1014.8 981.8,1014.8 982.4,1206.5 983.7,1213.9 984.9,1213.9 985.5,1189.1 992.9,1189.1 993.6,1216.4 996,1218.8 997.3,1211.4 999.1,1202.8 1006.5,1202.8 1007.2,1206.5 1012.1,1210.2 1013.4,1200.3 1015.2,1199 1015.8,1186.7 1019.5,1184.2 1024.5,1184.8 1026.3,1194.1 1033.1,1196.6 1034.4,1205.2 1039.3,1204 1040.6,1195.3 1045.5,1192.9 1052.9,1192.9 1054.2,1186.7 1061.6,1186.1 1062.8,1181.7 1069,1181.1 1070.2,1186.7 1074.6,1186.7 1075.2,1191.6 1080,1192.9 1080,1181.7 1081.2,1181.1 1088.7,1181.7 1089.3,1189.1 1092.4,1191.6 1094.8,1195.3 1097.3,1196.6 1098.6,1185.4 1102.3,1184.2 1102.9,1124.2 1110.9,1123.6 1111.5,1129.2 1113.4,1129.8 1114,1200.3 1116.5,1199.7 1117.1,1185.4 1119.6,1184.2 1124.5,1184.8 1125.1,1205.2 1127,1206.5 1127.6,1202.8 1135,1202.1 1135.7,1192.9 1140.6,1191.6 1141.2,1189.1 1149.3,1189.1 1149.9,1195.3 1154.2,1196.6 1155.4,1194.7 1167.8,1194.7 1169,1217.6 1170.9,1217.6 1171.5,1199 1174,1197.2 1183.9,1197.8 1185.1,1210.2 1187,1211.4 1187.6,1221.3 1189.4,1221.3 1190.1,1207.7 1195,1206.5 1195.6,1197.8 1203.7,1197.2 1204.3,1202.8 1208.6,1202.8 1209.2,1180.5 1214.2,1177.4 1214.8,1140.9 1222.2,1140.3 1222.8,1155.8 1227.2,1159.5 1229,1164.4 1232.1,1161.9 1237.1,1156.4 1242,1157 1244.5,1164.4 1247,1164.4 1247.6,1118.7 1255,1118 1255.6,1145.9 1258.1,1144.6 1260.6,1142.8 1265.5,1145.9 1266.7,1163.2 1270.5,1166.9 1271.7,1159.5 1276.6,1158.8 1277.3,1148.3 1281,1147.7 1281.3,840 1293.3,840 1293.7,1009.5 1300,1009.5 1300,1009.5 1301.9,1009.5 1302.2,1164.4 1303.7,1159.5 1307.4,1158.8 1308,1153.3 1311.1,1151.4 1314.8,1153.3 1315.5,1171.8 1320.4,1172.5 1321,1169.4 1324.1,1168.1 1324.7,1159.5 1329.1,1158.8 1329.7,1156.4 1333.4,1157 1334.6,1158.8 1340.2,1158.8 1340.8,1144.6 1344.5,1142.8 1350.1,1143.4 1350.7,1153.3 1353.2,1153.9 1354.4,1161.9 1356.9,1164.4 1358.1,1168.1 1360.6,1168.1 1361.8,1178 1363.7,1178 1364.3,1194.7 1373,1194.7 1375.4,1199 1381,1200.3 1381.6,1223.8 1383.5,1224.4 1384.1,1221.3 1386,1219.4 1386.6,1216.4 1392.1,1216.4 1392.8,1213.9 1396.5,1214.5 1397.1,1200.3 1400.8,1199.7 1401.4,1197.2 1405.1,1197.8 1405.7,1107.5 1413.8,1107.5 1414.8,1116 1416.3,1116 1417.5,1106 1426.4,1106 1427.4,1161.3 1429.9,1161.9 1430.5,1187.9 1432.9,1188.5 1433.6,1183.6 1436,1183 1436.7,1051.8 1443.5,1051.8 1444.1,1210.2 1449,1210.8 1449.6,1207.7 1452.7,1204 1457.1,1204.6 1460.2,1207.7 1460.8,1218.8 1463.2,1218.8 1464.5,1215.1 1468.2,1215.1 1470.7,1218.8 1474.4,1218.8 1475,1226.9 1476.8,1226.9 1478.1,1222.5 1483,1223.2 1485.5,1226.3 1488,1226.9 1488.6,1229.3 1489.8,1229.3 1490.5,1178 1491.7,1021 1501,1021 1501.6,1207.7 1509,1208.3 1509.6,1180.5 1512.7,1178 1520,1178 1520,1177.4 1524.9,1179.3 1527.4,1181.7 1528.7,1170.6 1532.4,1167.5 1536.1,1170.6 1536.7,1183 1539.2,1184.2 1539.8,1189.1 1543.5,1187.3 1550.3,1189.8 1552.8,1191.6 1553.4,1202.8 1555.2,1202.8 1555.9,1190.4 1558.3,1184.2 1562,1181.7 1564.5,1184.2 1569.5,1183.6 1571.9,1180.5 1572.6,1160.7 1576.3,1159.5 1580,1160.1 1580.6,1163.2 1582.5,1163.8 1583.1,1168.1 1586.8,1166.3 1591.1,1166.9 1591.7,1152 1594.2,1148.3 1597.3,1146.5 1601.6,1149.6 1602.2,1172.5 1607.2,1173.7 1607.8,1157.6 1612.1,1154.5 1612.8,1113.7 1616.5,1110 1620.8,1113.7 1621.4,1196.6 1623.3,1196.6 1624.5,1189.1 1629.4,1186.7 1635,1187.9 1638.7,1186.7 1643.1,1188.5 1643.7,1176.8 1648.6,1173.1 1653.6,1174.3 1656,1179.3 1661,1184.2 1662.2,1201.5 1662.8,1206.5 1667.2,1205.8 1667.8,1187.3 1672.7,1186.7 1673.4,1177.4 1677.1,1175.5 1680.8,1177.4 1681.4,1184.2 1683.9,1184.8 1684.5,1195.3 1686.3,1196 1683.9,1204 1683.9,1204 1681.4,1218.8 1680.8,1225 1673.1,1225.3 1673,1259.6 1672.1,1291.8 1669.6,1293 1665.9,1295.5 1662.2,1293 1661.6,1274.5 1659.7,1274.5 1657.3,1278.8 1654.2,1275.7 1651.7,1274.5 1651.1,1248.5 1649.2,1247.3 1648.6,1259.6 1646.1,1260.3 1643.1,1263.4 1642.4,1270.8 1635,1270.2 1634.4,1246.7 1631.9,1246 1631.9,1336.3 1626.4,1338.2 1621.4,1336.3 1620.8,1252.2 1618.9,1252.2 1618.3,1262.1 1615.8,1263.4 1611.5,1264.6 1608.4,1260.9 1607.8,1247.3 1605.3,1239.9 1601.6,1238.6 1599.1,1233.7 1594.2,1232.4 1592.3,1215.1 1591.1,1221.3 1586.8,1223.8 1583.1,1232.4 1581.8,1254.7 1574.4,1257.2 1572.6,1258.4 1571.9,1264.6 1567,1267.1 1564.5,1274.5 1563.9,1284.4 1558.3,1285.6 1557.7,1292.4 1550.3,1291.8 1549.7,1270.8 1542.3,1269.5 1539.8,1252.2 1533.6,1249.7 1529.9,1244.8 1523.7,1241.1 1520,1243.6 1520,1256.5 1516.4,1258.4 1512.7,1264.6 1510.2,1288.1 1509,1357 1504.9,1360.5 1501,1357 1500.3,1304.2 1496,1305.4 1495.4,1326.4 1492.9,1330.8 1488,1330.1 1485.5,1325.2 1484.9,1301.7 1483,1300.5 1481.8,1295.5 1479.3,1290.6 1476.8,1293 1471.9,1295.5 1470.7,1302.9 1465.7,1306.6 1463.2,1317.8 1458.3,1320.2 1454.6,1317.8 1454,1283.1 1452.1,1283.1 1451.5,1289.3 1449,1290.6 1448.4,1429 1444.7,1432 1441,1429 1440.4,1288.1 1437.3,1289.3 1431.1,1289.3 1427.4,1288.1 1426.8,1337.6 1424.9,1340 1423.7,1434 1420.2,1437.5 1416.9,1434 1416.3,1298 1414.4,1298 1413.8,1300.5 1408.2,1301.7 1407.6,1327.7 1400.2,1327.7 1398.3,1322.7 1397.7,1314.1 1395.2,1312.8 1394,1293 1392.1,1293 1391.5,1311.6 1386.6,1311.6 1384.1,1309.1 1383.5,1288.1 1379.1,1286.8 1377.9,1289.3 1374.2,1289.3 1373,1288.1 1363.1,1288.1 1361.8,1294.3 1358.1,1297.4 1354.4,1298 1351.3,1294.3 1350.7,1270.8 1340.8,1270.8 1340.2,1265.8 1339.7,1254.9 1337.3,1254.9 1337.1,1253.5 1334.6,1252.2 1333.4,1246 1329.7,1246 1329.1,1263.4 1326.6,1264.6 1321,1264.6 1320.4,1249.7 1318.6,1251 1313,1252.2 1312.4,1251 1309.9,1249.7 1308,1345 1304.3,1348 1300,1347 1300,1347 1299.5,1345 1298.9,1225 1295.2,1221.9 1292.7,1223.8 1289,1230 1285.3,1246 1284.7,1254.7 1284.1,1285.6 1282.8,1316.5 1279.1,1319 1275.4,1315.3 1274.8,1263.4 1271.7,1264.6 1266.7,1265.8 1263,1268.3 1259.3,1264.6 1258.7,1257.2 1258.3,1241.1 1255.4,1241.1 1255,1353 1251.3,1356 1247.6,1353 1247.2,1233.7 1244.7,1233.7 1244.5,1268.3 1236.4,1268.3 1236.1,1233.1 1230.6,1233.7 1230.3,1281.9 1223.5,1281.9 1222.8,1246.7 1220.4,1247.3 1219.7,1258.4 1214.8,1259.6 1214.2,1312.8 1211.7,1312.8 1211.1,1335.1 1207.4,1338.8 1204.3,1335.1 1203.7,1293 1201.8,1293 1201.2,1297.4 1198.1,1298 1197.5,1367 1191.3,1371.5 1185.1,1367 1184.5,1270.8 1182.6,1270.8 1181.4,1265.8 1178.9,1263.4 1176.5,1264.6 1175.8,1278.2 1174,1279.4 1172.8,1286.8 1169,1289.3 1166,1285.6 1165.3,1279.4 1160.4,1278.8 1157.9,1274.5 1156.7,1267.1 1153,1264.6 1151.7,1260.9 1143.7,1259.6 1143.1,1249.7 1141.2,1249.7 1140.6,1270.8 1135.7,1274.5 1134.4,1281.9 1129.5,1284.4 1125.1,1281.9 1124.5,1270.8 1122,1270.8 1121.4,1337.6 1117.1,1341.3 1114,1337.6 1113.4,1255.9 1111.5,1255.9 1110.9,1259.6 1108.4,1260.3 1107.2,1277 1104.1,1278.8 1100.4,1277 1099.8,1260.3 1097.3,1260.9 1096.1,1278.2 1091.1,1281.3 1087.4,1278.2 1086.2,1265.8 1082.5,1264.6 1080,1260.9 1080,1248.5 1077.7,1257.2 1074,1259.6 1070.2,1258.4 1069,1273.9 1062.3,1279.7 1061.6,1281.9 1056.6,1280.7 1056,1270.8 1053.5,1270.8 1052.9,1304.2 1049.2,1306.6 1045.5,1302.9 1044.3,1285 1040.6,1281.9 1039.3,1277 1035.6,1278.2 1030.7,1274.5 1028.2,1272 1020.8,1270.8 1020.2,1285.6 1017.1,1289.3 1013.4,1286.8 1012.1,1278.2 1010.3,1277 1009.6,1288.1 1005.9,1292.4 1002.2,1289.3 999.7,1283.1 999.1,1295.5 996,1298 994.8,1333.8 992.9,1349 989.2,1353 985.5,1349 984.9,1268.3 982.4,1268.3 981.8,1274.5 978.7,1278.2 974.4,1274.5 973.8,1263.4 971.9,1263.4 971.3,1280.7 969.4,1280.7 968.2,1295.5 965.1,1298 962,1295.5 961.4,1281.9 958.9,1280.7 957.7,1275.7 952.8,1278.2 949,1274.5 947.8,1263.4 944.1,1260.9 941.6,1257.2 937.9,1259.6 933.6,1258.4 933,1273.2 930.5,1274.5 928,1285.6 924.3,1288.1 921.8,1291.8 918.1,1293 916.9,1307.9 914.4,1309.1 909.5,1307.9 908.2,1290.6 905.8,1290.6 903.3,1294.3 900.8,1302.9 898.3,1304.2 897.1,1439 892.2,1443 887.2,1439 886.6,1288.1 876.7,1288.7 876.1,1297.4 873.6,1298 871.1,1309.1 865.6,1312.8 864.7,1436 860,1439.5 860,1439.5 854.4,1436 854,1376 851.2,1376 850.9,1420 845.9,1424 841,1420 840.3,1272 838.5,1270.8 837.9,1260.3 832.9,1260.9 829.2,1264.6 824.3,1263.4 823.7,1294.3 819.3,1295.5 818.1,1302.9 814.4,1304.8 811.3,1302.9 810.7,1285.6 808.2,1284.4 807,1279.4 802,1279.4 801.4,1312.8 798.3,1320.2 793.4,1327.7 789.6,1330.1 785.9,1328.9 783.5,1314.1 781,1309.1 779.7,1298 776,1299.2 774.8,1310.3 771.1,1311.6 767.4,1309.1 766.1,1304.2 761.8,1304.2 760,1314.1 756.3,1320.2 752.5,1322.7 748.8,1320.2 745.1,1312.8 741.4,1311.6 737.1,1309.1 736.5,1279.4 734.6,1278.2 734,1263.4 729,1265.8 727.8,1278.2 724.1,1281.9 721.6,1298 716.7,1300.5 713,1295.5 711.7,1277 699.4,1277 695.7,1280.7 693.2,1288.1 686.4,1288.1 684.5,1300.5 680.8,1303.5 677.1,1300.5 675.9,1283.1 674,1283.1 673.4,1307.9 669.7,1311.6 666,1310.3 663.5,1300.5 662.9,1289.3 658.6,1286.8 657.3,1274.5 653.6,1272 652.4,1280.7 651.7,1376 648,1379 644.3,1376 643.7,1309.1 641.5,1307.9 641.2,1298.8 640.6,1268.4 633.4,1267.8 630.7,1249.3 630.1,1238.7 624.8,1238.7 623.5,1247.3 619.5,1255.9 615.6,1262.5 611.6,1259.9 603.7,1259.2 603,1238.1 598.4,1238.1 597.1,1232.8 591.8,1227.5 587.8,1223.6 587.2,1238.1 585.2,1244.7 579.3,1246 578.6,1243.4 574.6,1243.4 573.6,1223.6 573.3,1191.9 572.7,1182 563.4,1176.3 551.5,1181.3 550.6,1187.9 548.9,1232.8 540.3,1243.4 539,1260.5 532.4,1263.2 529.8,1261.8 528.4,1316.6 521.2,1316 520.8,1238.1 519.2,1235.4 517.2,1246 515.9,1246 513.3,1248.6 511.9,1314.6 510,1333.1 506,1335.8 502.7,1333.1 502,1256.6 499.4,1253.9 498.7,1234.1 496.8,1235.4 494.8,1298.8 493.5,1325.2 490.2,1327.8 486.2,1326.5 483.6,1316 480.9,1261.8 478.3,1259.2 477.6,1248.6 475.6,1248.6 475,1286.9 472.3,1288.2 469.7,1312 468.4,1338.4 467.1,1346.3 466.6,1346.8 462.9,1348.7 459.2,1343.7 456.7,1314.1 455.5,1270.8 451.8,1270.8 450.6,1255.9 448.1,1254.7 445.6,1248.5 444.4,1269.5 440.7,1273.2 435.7,1270.8 434.5,1257.2 431.4,1257.2 430.8,1305.4 424.6,1309.1 420.9,1305.4 420.3,1277 417.8,1275.7 417.2,1253.5 413.5,1251 407.3,1252.2 404.8,1264.6 396.1,1267.1 395.5,1332.6 393.7,1336.3 377,1335.1 376.4,1316.5 371.4,1315.3 368.9,1306.6 366.5,1314.1 361.5,1316.5 357.8,1314.1 356.6,1291.8 352.2,1289.3 349.8,1280.7 349.1,1239.9 344.2,1239.9 335.5,1240.5 326.9,1236.1 321.9,1233.7 317,1237.4 309.6,1237.4 303.4,1234.9 299.7,1231.2 294.7,1226.3 289.8,1223.8 282.4,1220.1" fill="#ff0000" stroke="#ff0000" stroke-width="0.8" stroke-linejoin="round"/>
</g>
<g fill="#000"><rect x="1763.3" y="859.1" width="2.1" height="684.9" fill="#6f7777"/><rect x="275.6" y="850.7" width="1498.2" height="8.4"/><rect x="275.6" y="1544" width="1498.2" height="7.8"/><rect x="284" y="859.1" width="2" height="684.9" fill="#555a60"/><rect x="275.6" y="850.7" width="8.4" height="701.1"/><rect x="1765.4" y="850.7" width="8.4" height="701.1"/><rect x="284" y="989.8" width="27" height="7.8"/><rect x="1739" y="989.8" width="26.4" height="7.8"/><rect x="284" y="1128.9" width="27" height="7.8"/><rect x="1739" y="1128.9" width="26.4" height="7.8"/><rect x="284" y="1265.5" width="27" height="7.8"/><rect x="1739" y="1265.5" width="26.4" height="7.8"/><rect x="284" y="1404.7" width="27" height="7.8"/><rect x="1739" y="1404.7" width="26.4" height="7.8"/><rect x="772.4" y="859.1" width="7.8" height="24.7"/><rect x="772.4" y="1519.1" width="7.8" height="24.9"/><rect x="1269.3" y="859.1" width="7.8" height="24.7"/><rect x="1269.3" y="1519.1" width="7.8" height="24.9"/></g>
<g font-family="'Liberation Serif','DejaVu Serif',serif" fill="#000" stroke="#fff" stroke-width="1" stroke-linejoin="round" style="font-kerning:none"><text x="251" y="86.3" text-anchor="end" fill="#000" font-size="84">360</text><text x="251" y="260.8" text-anchor="end" fill="#000" font-size="84">270</text><text x="251" y="432.8" text-anchor="end" fill="#000" font-size="84">180</text><text x="251" y="607.6" text-anchor="end" fill="#000" font-size="84">90</text><text x="251" y="779.3" text-anchor="end" fill="#000" font-size="84">0</text><text x="251" y="880.5" text-anchor="end" fill="#000" font-size="84">6</text><text x="251" y="1019.3" text-anchor="end" fill="#000" font-size="84">4</text><text x="251" y="1158.4" text-anchor="end" fill="#000" font-size="84">2</text><text x="251" y="1295" text-anchor="end" fill="#000" font-size="84">0</text><text x="251" y="1434.2" text-anchor="end" fill="#000" font-size="84">-2</text><text x="251" y="1573.5" text-anchor="end" fill="#000" font-size="84">-4</text><text x="280.8" y="1641" text-anchor="middle" fill="#000" font-size="84">0</text><text x="777.3" y="1641" text-anchor="middle" fill="#000" font-size="84">5000</text><text x="1274.3" y="1641" text-anchor="middle" fill="#000" font-size="84">10000</text><text x="1769.5" y="1641" text-anchor="middle" fill="#000" font-size="84">15000</text><text x="1024.5" y="1717.5" text-anchor="middle" fill="#000" font-size="84">Epoch (0.1s)</text><text x="745" y="1870" text-anchor="start" fill="#000" font-size="84">FOG-INS</text><text x="1306.5" y="1870" text-anchor="start" fill="#000" font-size="84">SD-Fix</text><text x="638.6" y="965.2" text-anchor="middle" fill="#ff0000" font-size="84" stroke="none">1</text><text x="822.7" y="965.2" text-anchor="middle" fill="#ff0000" font-size="84">2</text><text x="881" y="965.2" text-anchor="middle" fill="#ff0000" font-size="84">3</text><text x="971.6" y="965.2" text-anchor="middle" fill="#ff0000" font-size="84">4</text><text x="1097" y="965.2" text-anchor="middle" fill="#ff0000" font-size="84">5</text><text x="1305.6" y="965.2" text-anchor="middle" fill="#ff0000" font-size="84" stroke="none">1</text><text x="1387.5" y="965.2" text-anchor="middle" fill="#ff0000" font-size="84">2</text><text x="1437" y="965.2" text-anchor="middle" fill="#ff0000" font-size="84">3</text><text x="1498.2" y="965.2" text-anchor="middle" fill="#ff0000" font-size="84">4</text><text x="1615.4" y="965.2" text-anchor="middle" fill="#ff0000" font-size="84">5</text><text transform="translate(106,400.7) rotate(-90)" text-anchor="middle" font-size="84">Yaw angle (<tspan font-size="48" dy="-41" dx="-1">o</tspan><tspan dy="41">)</tspan></text><text transform="translate(94.8,1240) rotate(-90)" text-anchor="middle" font-size="84">Pitch angle (<tspan font-size="48" dy="-41" dx="-1">o</tspan><tspan dy="41">)</tspan></text></g>
<rect x="272.9" y="1781.5" width="1473.4" height="127.8" fill="none" stroke="#000" stroke-width="5.6"/>
<rect x="1744.3" y="1784.3" width="1.6" height="122.4" fill="#777"/>
<line x1="529.2" y1="1842.7" x2="727.5" y2="1842.7" stroke="#0000ff" stroke-width="8"/>
<line x1="1092" y1="1842.2" x2="1291.2" y2="1842.2" stroke="#ff0000" stroke-width="8"/>
</svg>
</body></html>
